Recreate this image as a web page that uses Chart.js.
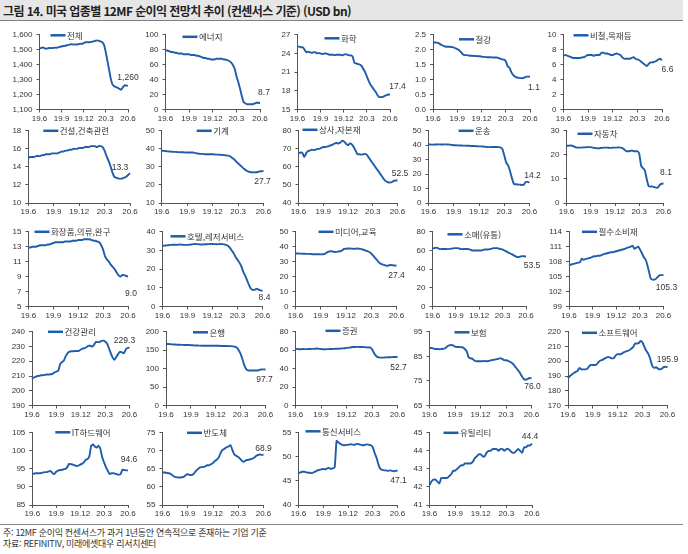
<!DOCTYPE html>
<html lang="ko">
<head>
<meta charset="UTF-8">
<title>그림 14. 미국 업종별 12MF 순이익 전망치 추이</title>
<style>
  body { margin: 0; width: 688px; height: 554px; background: #fff; position: relative; overflow: hidden;
         font-family: "Noto Sans CJK KR", sans-serif; color: #333; }
  .title { position: absolute; left: 0; top: 0; width: 683px; height: 20px; background: #e6e6e6;
           border-bottom: 1px solid #7f7f7f; }
  .title span { position: absolute; left: 3px; top: 2px; font-size: 12px; font-weight: bold; color: #222;
                letter-spacing: -0.6px; white-space: nowrap; line-height: 17px; }
  canvas { position: absolute; }
  .rule { position: absolute; left: 0; top: 524px; width: 683px; border-top: 1px solid #8a8a8a; }
  .note { position: absolute; left: 3px; font-size: 9px; letter-spacing: -0.3px; white-space: nowrap; line-height: 11px; }
</style>
</head>
<body>
<div class="title"><span>그림 14. 미국 업종별 12MF 순이익 전망치 추이 (컨센서스 기준) (USD bn)</span></div>
<div class="rule"></div>
<div class="note" style="top:527px">주: 12MF 순이익 컨센서스가 과거 1년동안 연속적으로 존재하는 기업 기준</div>
<div class="note" style="top:538px">자료: REFINITIV, 미래에셋대우 리서치센터</div>

<script src="https://cdn.jsdelivr.net/npm/chart.js@4.4.1/dist/chart.umd.min.js"></script>
<script>
// weekly points 19.6 -> 20.6, a label every 13 weeks
const quarterLabels = ['19.6', '19.9', '19.12', '20.3', '20.6'];
const weeks = [];
for (let i = 0; i <= 52; i++) weeks.push(i % 13 === 0 ? quarterLabels[i / 13] : '');

const names = ['전체', '에너지', '화학', '철강', '비철,목재등',
               '건설,건축관련', '기계', '상사,자본재', '운송', '자동차',
               '화장품,의류,완구', '호텔,레저서비스', '미디어,교육', '소매(유통)', '필수소비재',
               '건강관리', '은행', '증권', '보험', '소프트웨어',
               'IT하드웨어', '반도체', '통신서비스', '유틸리티'];

// y axis [min, max, step]
const yRanges = [[1100, 1600, 100], [0, 100, 20], [15, 27, 3], [0, 2.5, 0.5], [0, 10, 2],
                 [10, 18, 2], [10, 50, 10], [40, 80, 10], [0, 50, 10], [0, 30, 5],
                 [5, 15, 2], [0, 40, 10], [0, 50, 10], [0, 80, 20], [99, 114, 3],
                 [190, 240, 10], [0, 200, 50], [0, 80, 20], [65, 95, 5], [170, 220, 10],
                 [85, 105, 5], [55, 75, 5], [40, 55, 5], [41, 45, 1]];

const total = [1508,1512,1515,1510,1506,1510,1512,1511,1512,1514,1513,1516,1520,
  1522,1525,1526,1530,1533,1535,1537,1534,1536,1535,1538,1540,1539,
  1545,1550,1551,1550,1552,1553,1558,1560,1563,1560,1555,1550,1530,
  1480,1420,1360,1300,1265,1255,1250,1245,1238,1232,1250,1262,1260,1260];
const energy = [79,79,78,77,77,76,76,75,75,75,74,74,74,
  74,73,73,73,72,72,71,70,69,69,68,68,67,
  67,67,68,68,68,68,67,67,66,65,63,60,55,
  45,37,28,18,10,8,7,7,7,7,8,9,9,8.7];
const chemical = [25.1,25.1,25.0,25.0,24.6,24.2,24.3,24.2,24.1,24.2,24.2,24.0,24.1,
  24.0,23.9,24.0,24.0,23.9,23.8,23.8,23.8,23.7,23.8,23.8,23.8,23.7,
  23.8,23.9,23.8,23.7,23.7,23.5,22.5,22.4,22.3,22.2,22.0,21.5,21.0,
  20.3,19.6,19.0,18.6,18.2,17.8,17.3,17.0,17.0,17.0,17.2,17.3,17.4,17.4];
const steel = [2.25,2.24,2.24,2.22,2.18,2.15,2.12,2.10,2.10,2.10,2.09,2.08,2.05,
  2.02,1.98,1.92,1.85,1.82,1.82,1.81,1.80,1.80,1.79,1.79,1.78,1.78,
  1.77,1.76,1.76,1.75,1.75,1.75,1.74,1.74,1.74,1.73,1.70,1.68,1.67,
  1.62,1.45,1.40,1.25,1.15,1.10,1.07,1.06,1.05,1.05,1.07,1.10,1.10,1.10];
const nonferrous = [7.2,7.3,7.2,7.1,7.0,6.9,6.9,6.9,6.9,6.9,7.0,7.0,7.2,
  7.3,7.3,7.3,7.2,7.3,7.3,7.3,7.6,7.6,7.5,7.5,7.4,7.3,
  7.3,7.4,7.5,7.4,7.3,7.0,6.8,6.8,6.8,6.8,6.9,7.0,6.8,
  6.7,6.6,6.4,6.2,6.0,5.8,6.1,6.3,6.3,6.4,6.5,6.7,6.8,6.6];
const construction = [15.0,15.1,15.1,15.1,15.2,15.2,15.2,15.3,15.3,15.4,15.4,15.4,15.5,
  15.5,15.5,15.5,15.6,15.7,15.7,15.8,15.8,15.9,15.9,16.0,16.0,16.0,
  16.1,16.1,16.1,16.2,16.2,16.2,16.3,16.3,16.3,16.2,16.3,16.3,16.2,
  15.8,15.2,14.7,14.1,13.4,12.9,12.8,12.7,12.7,12.7,12.8,12.9,13.1,13.3];
const machinery = [39.0,38.9,38.8,38.6,38.5,38.4,38.3,38.3,38.2,38.2,38.1,38.1,38.0,
  38.0,38.0,38.0,38.0,37.8,37.5,37.3,37.2,37.2,37.0,37.0,37.0,37.0,
  37.0,36.9,36.8,36.8,36.7,36.6,36.5,36.4,36.2,35.8,35.0,34.2,33.0,
  32.0,31.0,30.0,29.0,28.2,27.5,27.2,27.0,27.0,27.0,27.2,27.5,27.6,27.7];
const trading = [67.5,68.0,67.8,65.5,67.5,68.8,69.0,69.5,69.3,69.6,70.0,70.0,70.5,
  71.0,71.0,71.2,71.5,72.0,72.3,73.0,73.2,73.0,73.5,74.5,74.0,72.8,
  72.0,73.0,72.5,71.0,69.0,67.0,67.0,66.8,67.0,67.2,66.5,65.0,63.5,
  62.0,60.5,59.0,57.5,56.0,54.5,53.0,52.0,51.5,51.3,51.5,52.2,52.5,52.5];
const transport = [40.5,40.5,40.4,40.5,40.5,40.6,40.6,40.5,40.6,40.6,40.5,40.4,40.2,
  40.0,40.0,39.9,39.8,39.8,39.7,39.7,39.6,39.6,39.5,39.5,39.4,39.3,
  39.2,39.2,39.1,39.0,38.8,38.7,38.7,38.8,38.8,38.8,38.7,38.5,37.5,
  33.0,28.0,26.0,22.0,17.0,13.2,13.0,12.8,12.7,12.5,12.6,14.5,14.6,14.2];
const autos = [23.8,23.8,23.9,23.8,23.5,23.1,23.0,23.0,23.0,23.1,23.1,23.2,23.2,
  23.2,23.0,22.9,22.8,22.7,22.8,22.9,23.0,23.0,23.0,22.9,22.9,23.0,
  23.0,23.0,23.1,23.0,22.8,22.2,21.6,21.5,21.6,21.8,21.5,21.5,21.5,
  20.5,15.5,14.5,13.5,10.0,7.0,6.8,6.9,6.6,6.4,6.4,7.5,8.0,8.1];
const cosmetics = [12.9,12.9,13.0,13.0,13.0,13.1,13.2,13.2,13.2,13.2,13.3,13.3,13.4,
  13.5,13.6,13.6,13.6,13.6,13.6,13.7,13.7,13.7,13.7,13.8,13.8,13.8,
  13.9,13.9,13.9,14.0,14.0,14.0,14.0,13.9,13.8,13.8,13.7,13.6,13.2,
  12.6,11.7,11.3,11.0,10.6,10.3,10.0,9.6,9.2,9.0,9.2,9.2,9.1,9.0];
const hotels = [32.5,32.6,32.7,32.8,33.0,33.0,33.1,33.0,33.1,33.2,33.1,33.0,33.0,
  33.0,33.1,33.2,33.4,33.5,33.4,33.3,33.2,33.2,33.3,33.3,33.4,33.5,
  33.5,33.4,33.3,33.4,33.5,33.4,33.3,33.0,32.5,31.5,30.0,28.5,26.5,
  25.0,23.5,21.5,18.5,16.5,14.0,11.5,9.5,8.8,9.0,9.5,9.0,8.6,8.4];
const media = [35.5,35.5,35.4,35.4,35.3,35.3,35.2,35.2,35.1,35.0,35.0,35.0,35.0,
  34.9,35.0,35.2,36.0,36.8,37.0,36.8,36.5,36.6,36.8,37.0,37.5,38.5,
  38.7,38.8,38.8,38.7,38.6,38.7,38.8,38.6,38.4,38.0,37.5,37.0,36.5,
  35.5,34.0,32.5,31.0,29.5,28.5,28.0,27.6,27.3,27.5,27.8,27.6,27.4,27.4];
const retail = [62.0,62.5,63.0,62.5,61.5,61.5,61.5,61.5,61.5,61.5,62.0,62.0,62.5,
  62.5,62.5,62.0,61.5,61.5,61.5,61.5,61.5,61.0,60.0,60.0,60.0,60.0,
  60.0,60.0,60.5,61.0,61.0,61.0,61.5,62.0,62.5,62.5,62.5,62.0,61.5,
  61.0,60.0,59.0,58.0,57.0,56.0,55.0,54.0,53.0,53.0,53.5,54.0,53.8,53.5];
const staples = [107.2,107.4,107.5,107.6,107.7,107.8,107.9,108.6,108.4,108.5,108.6,108.7,108.8,
  109.0,109.1,109.1,109.2,109.2,109.3,109.5,109.6,109.7,109.8,109.9,109.9,110.0,
  110.1,110.2,110.3,110.4,110.5,110.6,110.8,110.9,111.0,111.2,110.6,110.8,111.0,
  110.5,109.8,109.0,108.5,107.5,106.0,104.6,104.4,104.4,104.6,105.0,105.3,105.3,105.3];
const health = [208.0,209.0,209.5,210.0,210.2,210.5,210.6,210.8,211.0,211.0,211.2,211.5,212.5,
  213.0,213.5,218.0,219.5,220.5,223.5,225.5,226.5,226.8,226.8,227.0,227.0,227.0,
  228.0,228.5,229.0,229.5,230.5,230.5,230.0,231.0,233.0,233.0,233.0,233.8,234.0,
  233.5,232.0,229.0,225.5,222.5,221.0,223.0,225.0,226.5,226.0,225.5,228.0,229.0,229.3];
const banks = [167.5,167,166.5,166,165.5,165.5,165,165,164.5,164.5,164,164,164,
  163.5,163.5,163,163,162.5,162.5,162,162,162,162,162,162,162,
  162,162,162,161.5,161.5,161.5,161.5,161,161,160.5,159.5,157,150,
  140,125,108,98,95,95,95,95,95,95,97,98,98,97.7];
const securities = [61.5,61.5,61.0,61.2,61.3,61.2,61.2,61.4,61.5,61.5,61.6,61.8,61.5,
  61.4,61.0,61.0,61.2,61.2,61.3,61.4,61.5,61.6,61.6,61.8,62.0,62.2,
  62.5,62.8,63.0,63.5,63.5,63.6,63.6,63.5,63.5,63.4,63.2,63.0,63.0,
  61.0,57.0,54.0,52.5,52.0,52.0,52.0,52.2,52.3,52.3,52.5,52.6,52.7,52.7];
const insurance = [88.5,88.4,88.2,88.0,88.0,87.9,88.0,88.1,88.3,89.0,89.5,89.6,89.5,
  89.0,88.8,88.8,88.7,88.7,88.0,87.0,84.5,84.2,84.0,83.2,83.0,83.0,
  83.0,83.0,83.1,83.0,83.1,83.3,83.5,83.6,83.8,84.0,84.3,84.0,83.5,
  83.4,83.2,82.8,82.3,81.5,80.5,79.5,78.4,77.0,75.8,75.5,75.8,76.2,76.0];
const software = [188.5,190.0,191.0,192.0,192.8,193.5,195.5,194.5,194.5,194.5,194.8,196.5,197.5,
  197.5,197.5,197.8,199.5,200.5,201.0,201.8,202.5,203.0,202.5,202.0,202.2,204.0,
  204.8,204.8,205.0,206.0,206.5,207.0,207.5,208.5,209.5,212.0,212.0,212.5,213.8,
  212.5,209.5,207.0,205.0,201.5,197.0,195.5,196.0,195.0,194.5,195.0,196.0,196.3,195.9];
const itHardware = [93.6,93.7,93.8,93.8,93.8,93.9,94.0,94.1,94.1,94.3,94.4,93.8,93.6,
  94.2,94.5,94.7,94.7,94.9,95.0,95.5,96.4,96.3,96.2,96.0,95.8,95.9,
  96.2,96.4,96.8,97.5,97.7,98.5,101.4,101.8,101.2,100.9,101.4,100.5,98.2,
  96.8,95.5,94.5,93.6,93.8,93.8,93.7,93.5,93.4,93.6,94.8,94.7,94.6,94.6];
const semis = [64.0,64.0,63.9,63.8,63.7,63.3,62.9,62.7,62.6,62.6,62.7,62.8,63.3,
  63.5,63.3,63.3,63.6,64.3,64.8,65.3,65.5,65.5,65.7,66.0,66.0,66.3,
  66.6,67.2,67.6,68.2,69.5,70.3,70.6,71.0,71.2,71.6,70.2,69.0,68.6,
  68.3,67.8,67.2,67.0,67.4,67.5,67.6,67.8,68.0,68.5,68.8,69.0,68.9,68.9];
const telecom = [46.6,46.8,46.9,46.9,46.8,46.7,46.7,46.6,46.8,47.0,47.2,47.3,47.4,
  47.5,47.4,47.6,47.7,47.5,47.6,47.8,53.3,53.0,52.7,52.5,52.4,52.5,
  52.5,52.6,52.6,52.5,52.6,52.7,52.6,52.5,52.4,52.5,52.6,52.5,52.4,
  52.0,50.8,49.8,48.4,47.5,47.3,47.2,47.2,47.1,47.2,47.1,47.0,47.1,47.1];
const utilities = [42.1,42.3,42.4,42.4,42.3,42.2,42.5,42.5,42.5,42.5,42.6,42.7,42.9,
  42.9,43.0,43.1,43.2,43.2,43.3,43.3,43.3,43.3,43.4,43.6,43.7,43.8,
  43.8,43.7,43.7,43.9,44.0,44.0,44.1,44.1,44.1,44.0,44.1,44.1,44.0,
  44.1,44.1,44.0,43.9,43.9,44.0,44.1,44.0,43.9,44.2,44.2,44.3,44.3,44.4];

const series = [total, energy, chemical, steel, nonferrous,
  construction, machinery, trading, transport, autos,
  cosmetics, hotels, media, retail, staples,
  health, banks, securities, insurance, software,
  itHardware, semis, telecom, utilities];

// ---- layout (pixels) ----
const rowTop = [33.5, 130, 231, 331, 431.7];
const rowBottom = [109.5, 203, 306.5, 405.5, 505];
const plotX = [
  [[39.5, 128], [165.5, 260], [297.5, 390], [433, 530], [563.5, 662]],
  [[28.3, 130], [161.7, 263.5], [298.5, 397.5], [428.5, 529.5], [566.5, 663.5]],
  [[28.5, 128], [162.5, 262.5], [295.5, 396.5], [432.5, 526], [569, 663.5]],
  [[32, 129.5], [166, 265.5], [295.5, 397.5], [429.5, 531.5], [568, 667.5]],
  [[32.3, 128], [162.5, 263.5], [298.5, 397.5], [429.5, 532]]
];
// legend start offset from plot's top-left
const legendPos = [[11, 0.5], [17, 2], [27, 3.5], [26, 4.5], [10, 0.5],
  [15, 0], [35, 0], [4, -1], [30, 0], [11, 3],
  [6, 0], [8, 4.5], [23, 0], [15, 2.5], [13, 0],
  [16, 0], [27, 0.5], [30, -1], [25, 0.5], [14, 1],
  [23, -0.5], [24.5, 0], [7, -1.5], [14, 0]];
// end value label offset from last point
const endPos = [[0, -8], [4, -10], [7.5, -8], [4, 11], [5.5, 9],
  [-10, -6], [-1, 11], [2.5, -7], [3, -7], [2.5, -10.5],
  [3, 17], [2, 7], [0, 10], [6, 9], [3, 13],
  [-5, -7], [-1, 10], [1, 10.5], [1, 8], [0, -8],
  [1, -11], [0, -6.5], [1, 10], [-2, -7]];

const BLUE = '#1f5ca9';
const AXIS = '#555';
const tickFont = { family: '"Liberation Sans", Arial, sans-serif', size: 8 };

const panelText = {
  id: 'panelText',
  afterDatasetsDraw(chart, args, o) {
    const ctx = chart.ctx, a = chart.chartArea;
    const pts = chart.getDatasetMeta(0).data;
    const last = pts[pts.length - 1];
    ctx.save();
    const lx = a.left + o.legend[0], ly = a.top + o.legend[1];
    ctx.strokeStyle = BLUE;
    ctx.lineWidth = 2.5;
    ctx.beginPath();
    ctx.moveTo(lx, ly);
    ctx.lineTo(lx + 15, ly);
    ctx.stroke();
    ctx.fillStyle = '#333';
    ctx.textBaseline = 'middle';
    ctx.textAlign = 'left';
    ctx.font = '8.5px "Noto Sans CJK KR", sans-serif';
    ctx.fillText(o.name, lx + 16.5, ly);
    ctx.textAlign = 'center';
    ctx.font = '8.5px "Liberation Sans", Arial, sans-serif';
    ctx.fillText(o.endText, last.x + o.end[0], last.y + o.end[1]);
    ctx.restore();
  }
};

series.forEach(function (values, k) {
  const r = Math.floor(k / 5), c = k % 5;
  const [pl, pr] = plotX[r][c];
  const pt = rowTop[r], pb = rowBottom[r];
  const cx = Math.round(pl - 44), cy = Math.round(pt - 8);
  const cw = Math.round(pr + 22) - cx, ch = Math.round(pb + 16) - cy;

  const canvas = document.createElement('canvas');
  canvas.width = cw;
  canvas.height = ch;
  canvas.style.left = cx + 'px';
  canvas.style.top = cy + 'px';
  canvas.style.width = cw + 'px';
  canvas.style.height = ch + 'px';
  document.body.appendChild(canvas);

  const [ymin, ymax, ystep] = yRanges[k];
  const lastVal = values[values.length - 1];
  const endText = k === 0 ? lastVal.toLocaleString('en-US') : lastVal.toFixed(1);

  new Chart(canvas, {
    type: 'line',
    data: {
      labels: weeks,
      datasets: [{ data: values, borderColor: BLUE, borderWidth: 1.9, pointRadius: 0, tension: 0.2, fill: false }]
    },
    options: {
      responsive: false,
      animation: false,
      devicePixelRatio: 1,
      layout: { padding: { top: pt - cy, right: cx + cw - pr, left: 0, bottom: 0 } },
      plugins: {
        legend: { display: false },
        tooltip: { enabled: false },
        panelText: { name: names[k], legend: legendPos[k], end: endPos[k], endText: endText }
      },
      scales: {
        x: {
          offset: false,
          grid: {
            drawOnChartArea: false, drawTicks: true, tickLength: 3,
            tickColor: (ctx) => (weeks[ctx.index] ? AXIS : 'rgba(0,0,0,0)')
          },
          border: { color: AXIS, width: 1 },
          ticks: {
            autoSkip: false, maxRotation: 0, padding: 1, color: '#333', font: tickFont,
            callback: (v, i) => weeks[i]
          },
          afterFit: (s) => { s.height = cy + ch - pb; }
        },
        y: {
          min: ymin, max: ymax,
          grid: { drawOnChartArea: false, drawTicks: true, tickLength: 3, tickColor: AXIS },
          border: { color: AXIS, width: 1 },
          ticks: {
            stepSize: ystep, padding: 4, color: '#333', font: tickFont,
            callback: (v) => (k === 3 ? v.toFixed(1) : v.toLocaleString('en-US'))
          },
          afterFit: (s) => { s.width = pl - cx; }
        }
      }
    },
    plugins: [panelText]
  });
});
</script>
</body>
</html>
